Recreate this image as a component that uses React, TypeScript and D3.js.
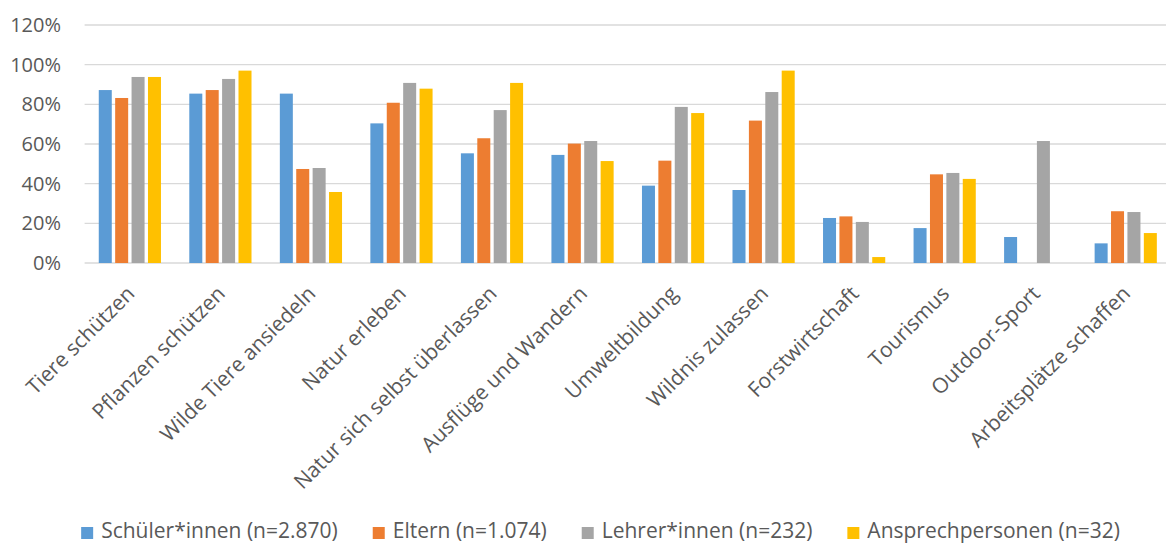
import React, { useEffect, useRef } from "react";
import * as d3 from "d3";

const categories = [
  "Tiere schützen",
  "Pflanzen schützen",
  "Wilde Tiere ansiedeln",
  "Natur erleben",
  "Natur sich selbst überlassen",
  "Ausflüge und Wandern",
  "Umweltbildung",
  "Wildnis zulassen",
  "Forstwirtschaft",
  "Tourismus",
  "Outdoor-Sport",
  "Arbeitsplätze schaffen",
];

const seriesNames = [
  "Schüler*innen (n=2.870)",
  "Eltern (n=1.074)",
  "Lehrer*innen (n=232)",
  "Ansprechpersonen (n=32)",
];

const schueler = [87.2, 85.4, 85.4, 70.4, 55.3, 54.5, 39.0, 36.8, 22.7, 17.6, 13.1, 9.9];
const eltern = [83.2, 87.2, 47.4, 80.8, 62.9, 60.2, 51.6, 71.8, 23.5, 44.7, 0, 26.1];
const lehrer = [93.8, 92.8, 47.9, 90.8, 77.1, 61.5, 78.7, 86.2, 20.7, 45.4, 61.5, 25.7];
const ansprech = [93.8, 97.0, 35.8, 87.9, 90.8, 51.4, 75.6, 97.0, 3.0, 42.4, 0, 15.1];

const yTicks = [0, 20, 40, 60, 80, 100, 120];

const colors = ["#5B9BD5", "#ED7D31", "#A5A5A5", "#FFC000"];

const W = 1166;
const H = 543;
const FONT = "'Open Sans', 'DejaVu Sans', sans-serif";

export default function App() {
  const ref = useRef<SVGSVGElement | null>(null);

  useEffect(() => {
    const svg = d3.select(ref.current);
    svg.selectAll("*").remove();

    const values = [schueler, eltern, lehrer, ansprech];
    const left = 84.6;
    const right = 1171;
    const top = 25;
    const bottom = 263;

    const y = d3.scaleLinear().domain([0, 120]).range([bottom, top]);
    const x0 = d3.scaleBand<string>().domain(categories).range([left, right]).padding(0);
    const bw = x0.bandwidth();
    const groupW = 65.6;
    const x1 = d3
      .scaleBand<string>()
      .domain(seriesNames)
      .range([(bw - groupW) / 2, (bw + groupW) / 2])
      .paddingInner(0.207)
      .paddingOuter(0.1035);

    // gridlines + y labels
    yTicks.forEach((t) => {
      svg
        .append("line")
        .attr("x1", left)
        .attr("x2", right)
        .attr("y1", y(t))
        .attr("y2", y(t))
        .attr("stroke", "#D9D9D9")
        .attr("stroke-width", t === 0 ? 1.5 : 1.3);
      svg
        .append("text")
        .attr("x", 61)
        .attr("y", y(t))
        .attr("dy", "0.35em")
        .attr("text-anchor", "end")
        .attr("font-family", FONT)
        .attr("font-size", 20)
        .attr("fill", "#595959")
        .text(`${t}%`);
    });

    // bars
    seriesNames.forEach((s, si) => {
      svg
        .append("g")
        .selectAll("rect")
        .data(categories)
        .join("rect")
        .attr("x", (c) => (x0(c) as number) + (x1(s) as number))
        .attr("width", x1.bandwidth())
        .attr("y", (c, i) => y(values[si][i]))
        .attr("height", (c, i) => bottom - y(values[si][i]))
        .attr("fill", colors[si]);
    });

    // category labels
    categories.forEach((c) => {
      const cx = (x0(c) as number) + bw / 2;
      svg
        .append("text")
        .attr("transform", `translate(${cx + 6},${bottom + 32}) rotate(-45)`)
        .attr("text-anchor", "end")
        .attr("font-family", FONT)
        .attr("font-size", 21)
        .attr("fill", "#595959")
        .text(c);
    });

    // legend
    const lg = svg.append("g");
    const ly = 531;
    let cursor = 0;
    seriesNames.forEach((s, si) => {
      const r = lg
        .append("rect")
        .attr("width", 12)
        .attr("height", 12)
        .attr("y", ly - 4)
        .attr("fill", colors[si]);
      const t = lg
        .append("text")
        .attr("y", ly)
        .attr("dy", "0.35em")
        .attr("font-family", FONT)
        .attr("font-size", 21)
        .attr("fill", "#595959")
        .text(s);
      const tw = (t.node() as SVGTextElement).getComputedTextLength();
      r.attr("x", cursor);
      t.attr("x", cursor + 20);
      cursor += 20 + tw + 35;
    });
    const total = cursor - 35;
    lg.attr("transform", `translate(${600.5 - total / 2},0)`);
  }, []);

  return (
    <svg
      ref={ref}
      width={W}
      height={H}
      style={{ position: "absolute", left: 0, top: 0, background: "#fff" }}
    />
  );
}
